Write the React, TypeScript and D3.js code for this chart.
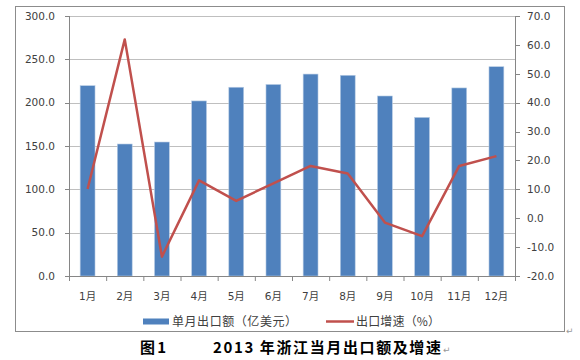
import React from "react";
import * as d3 from "d3";

const months = ["1月", "2月", "3月", "4月", "5月", "6月", "7月", "8月", "9月", "10月", "11月", "12月"];
const exportValues = [219.6, 152.3, 154.6, 202.0, 217.8, 221.0, 233.0, 231.6, 207.7, 183.0, 217.0, 241.5];
const growthRates = [10.1, 61.9, -13.3, 13.1, 6.0, 12.1, 18.1, 15.5, -1.5, -6.2, 18.1, 21.5];
const leftTicks = [0, 50, 100, 150, 200, 250, 300];
const rightTicks = [-20, -10, 0, 10, 20, 30, 40, 50, 60, 70];
const barLabel = "单月出口额（亿美元）";
const lineLabel = "出口增速（%）";
const captionNum = "图 1";
const captionText = "2013 年浙江当月出口额及增速";

export default function App() {
  const W = 580, H = 360;
  const plotL = 69, plotR = 515, plotT = 16, plotB = 276;
  const x = d3.scaleBand<string>().domain(months).range([plotL, plotR]).paddingInner(0.6).paddingOuter(0.3);
  const yL = d3.scaleLinear().domain([0, 300]).range([plotB, plotT]);
  const yR = d3.scaleLinear().domain([-20, 70]).range([plotB, plotT]);
  const step = x.step();
  const line = d3.line<number>()
    .x((_, i) => (x(months[i]) as number) + x.bandwidth() / 2)
    .y((d) => yR(d));
  const font = "'DejaVu Sans', 'Noto Sans CJK SC', sans-serif";
  const cjk = "'Noto Sans CJK SC', 'DejaVu Sans', sans-serif";
  const textColor = "#404040";
  const gridColor = "#BFBFBF";
  const axisColor = "#868686";

  return (
    <svg width={W} height={H} style={{ position: "absolute", left: 0, top: 0, background: "#fff" }}>
      <rect x={15.5} y={6.5} width={549} height={325} fill="#fff" stroke="#8c8c8c" strokeWidth={1} />
      {leftTicks.map((t) => (
        <line key={"g" + t} x1={plotL} x2={plotR} y1={Math.round(yL(t)) + 0.5} y2={Math.round(yL(t)) + 0.5} stroke={gridColor} strokeWidth={1} />
      ))}
      {/* left axis */}
      <line x1={plotL + 0.5} x2={plotL + 0.5} y1={plotT} y2={plotB} stroke={axisColor} />
      {leftTicks.map((t) => (
        <g key={"l" + t}>
          <line x1={plotL - 4} x2={plotL} y1={Math.round(yL(t)) + 0.5} y2={Math.round(yL(t)) + 0.5} stroke={axisColor} />
          <text x={55} y={yL(t) + 3.8} textAnchor="end" fontFamily={font} fontSize={10.5} fill={textColor}>{t.toFixed(1)}</text>
        </g>
      ))}
      {/* right axis */}
      <line x1={plotR + 0.5} x2={plotR + 0.5} y1={plotT} y2={plotB} stroke={axisColor} />
      {rightTicks.map((t) => (
        <g key={"r" + t}>
          <line x1={plotR} x2={plotR + 5} y1={Math.round(yR(t)) + 0.5} y2={Math.round(yR(t)) + 0.5} stroke={axisColor} />
          <text x={527} y={yR(t) + 3.8} textAnchor="start" fontFamily={font} fontSize={10.5} fill={textColor}>{t.toFixed(1)}</text>
        </g>
      ))}
      {/* bars */}
      {exportValues.map((v, i) => (
        <rect key={"b" + i} x={x(months[i])} y={yL(v)} width={x.bandwidth()} height={plotB - yL(v)} fill="#4F81BD" stroke="#B9CDE5" strokeWidth={0.6} />
      ))}
      {/* x axis */}
      <line x1={plotL} x2={plotR} y1={plotB + 0.5} y2={plotB + 0.5} stroke={axisColor} />
      {d3.range(months.length + 1).map((i) => (
        <line key={"xt" + i} x1={plotL + i * step + 0.5} x2={plotL + i * step + 0.5} y1={plotB} y2={plotB + 5} stroke={axisColor} />
      ))}
      {months.map((m) => (
        <text key={"xl" + m} x={(x(m) as number) + x.bandwidth() / 2} y={300} textAnchor="middle" fontFamily={font} fontSize={10.5} fill={textColor}>{m}</text>
      ))}
      {/* line */}
      <path d={line(growthRates) as string} fill="none" stroke="#C0504D" strokeWidth={2.5} strokeLinejoin="round" />
      {/* legend */}
      <rect x={143} y={318.5} width={26} height={6} fill="#4F81BD" />
      <text x={172} y={325.5} fontFamily={cjk} fontSize={12} fill={textColor} textLength={125} lengthAdjust="spacing">{barLabel}</text>
      <line x1={326} x2={354} y1={321.5} y2={321.5} stroke="#C0504D" strokeWidth={2.5} />
      <text x={356} y={325.5} fontFamily={cjk} fontSize={12} fill={textColor} textLength={84} lengthAdjust="spacing">{lineLabel}</text>
      <text x={566} y={334} fontFamily={font} fontSize={9} fill="#999">↵</text>
      {/* caption */}
      <text x={140} y={353} fontFamily={cjk} fontSize={15} fontWeight="bold" fill="#000" textLength={26} lengthAdjust="spacing">{captionNum}</text>
      <text x={213} y={353} fontFamily={cjk} fontSize={15} fontWeight="bold" fill="#000" textLength={228} lengthAdjust="spacing">{captionText}</text>
      <text x={443} y={353} fontFamily={font} fontSize={9} fill="#999">↵</text>
    </svg>
  );
}
